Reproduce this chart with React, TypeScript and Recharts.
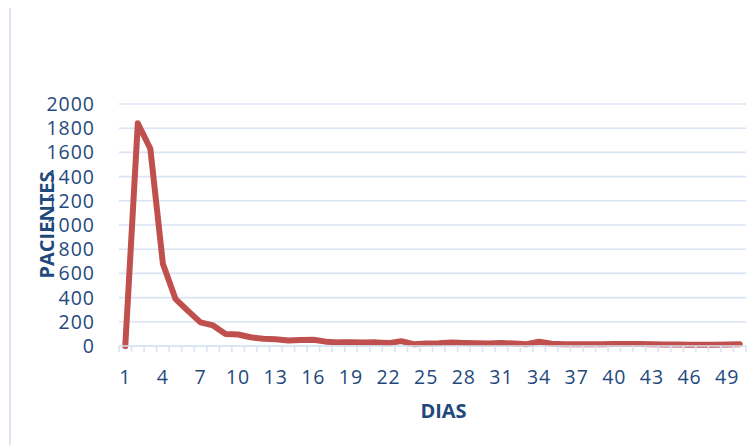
import React from 'react';
import { LineChart, Line, XAxis, YAxis, CartesianGrid } from 'recharts';

// Days since admission
const days = [
  1, 2, 3, 4, 5, 6, 7, 8, 9, 10,
  11, 12, 13, 14, 15, 16, 17, 18, 19, 20,
  21, 22, 23, 24, 25, 26, 27, 28, 29, 30,
  31, 32, 33, 34, 35, 36, 37, 38, 39, 40,
  41, 42, 43, 44, 45, 46, 47, 48, 49, 50,
];

// Patients per day
const patients = [
  0, 1840, 1630, 680, 390, 290, 195, 170, 100, 95,
  72, 60, 55, 45, 50, 52, 36, 30, 30, 28,
  30, 24, 40, 15, 20, 22, 28, 24, 22, 20,
  25, 20, 15, 35, 18, 15, 15, 14, 15, 16,
  16, 16, 14, 12, 12, 11, 11, 11, 12, 14,
];

const dayTicks = [1, 4, 7, 10, 13, 16, 19, 22, 25, 28, 31, 34, 37, 40, 43, 46, 49];
const patientTicks = [0, 200, 400, 600, 800, 1000, 1200, 1400, 1600, 1800, 2000];

const data = days.map((d, i) => ({ day: d, patients: patients[i] }));
// tick marks sit between days
const boundaryTicks = days.map((d) => d - 0.5).concat(days[days.length - 1] + 0.5);
const xDomain: [number, number] = [days[0] - 0.5, days[days.length - 1] + 0.5];

const FONT = '"Open Sans", "Liberation Sans", sans-serif';
const TEXT = '#1F497D';
const GRID = '#D9E4F4';

const tickStyle = { fill: TEXT, fontSize: 19.5, fontFamily: FONT, letterSpacing: 1 };

const NoLabel = () => <g />;

export default function App() {
  return (
    <div
      style={{
        position: 'relative',
        width: 755,
        height: 445,
        margin: '-8px 0 0 -8px',
        overflow: 'hidden',
        background: '#fff',
      }}
    >
      <div
        style={{
          position: 'absolute',
          left: 9,
          top: 5,
          width: 900,
          height: 600,
          borderLeft: '2px solid #DCE6F2',
          borderTop: '2px solid #DCE6F2',
        }}
      />
      <div style={{ position: 'absolute', left: 0, top: 0 }}>
        <LineChart
          width={755}
          height={445}
          data={data}
          margin={{ top: 104, right: 9, left: 39, bottom: 0 }}
        >
          <CartesianGrid
            xAxisId="axis1"
            yAxisId="y"
            vertical={false}
            stroke={GRID}
            strokeWidth={1.6}
          />
          <XAxis
            xAxisId="axis1"
            dataKey="day"
            type="number"
            domain={xDomain}
            ticks={dayTicks}
            interval={0}
            height={91}
            axisLine={false}
            tickLine={false}
            tickSize={0}
            tickMargin={16}
            tick={tickStyle}
            label={{
              value: 'DIAS',
              position: 'center',
              dx: 11,
              dy: 11,
              fill: TEXT,
              fontSize: 20,
              fontWeight: 700,
              fontFamily: FONT,
            }}
          />
          <XAxis
            xAxisId="axis0"
            dataKey="day"
            type="number"
            domain={xDomain}
            ticks={boundaryTicks}
            interval={0}
            tick={NoLabel}
            tickSize={6}
            height={8}
            axisLine={{ stroke: GRID, strokeWidth: 1.6 }}
            tickLine={{ stroke: GRID, strokeWidth: 1.6 }}
          />
          <YAxis
            yAxisId="y"
            width={80}
            domain={[0, 2000]}
            ticks={patientTicks}
            interval={0}
            axisLine={false}
            tickLine={false}
            tickSize={0}
            tickMargin={24}
            tick={tickStyle}
            label={{
              value: 'PACIENTES',
              angle: -90,
              position: 'center',
              dx: -32,
              fill: TEXT,
              fontSize: 20,
              fontWeight: 700,
              fontFamily: FONT,
            }}
          />
          <Line
            xAxisId="axis0"
            yAxisId="y"
            type="linear"
            dataKey="patients"
            stroke="#C0504D"
            strokeWidth={6}
            strokeLinejoin="round"
            strokeLinecap="round"
            dot={false}
            activeDot={false}
            isAnimationActive={false}
          />
        </LineChart>
      </div>
    </div>
  );
}
